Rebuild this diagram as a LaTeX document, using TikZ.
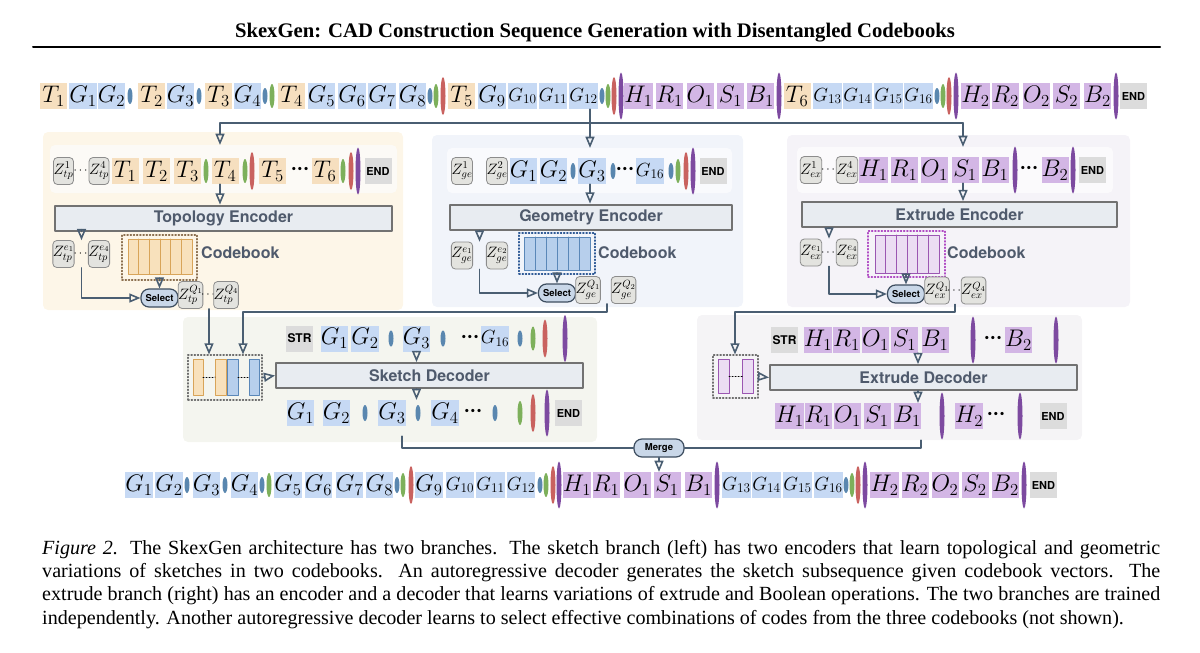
\RequirePackage{fix-cm}
\documentclass[tikz,border=0pt]{standalone}
\usepackage{amsmath}
\usepackage[no-math]{fontspec}
\setmainfont{Liberation Serif}
\newfontfamily\hv{TeX Gyre Heros}
\usetikzlibrary{arrows,shapes.geometric,calc}
\newcommand\bdots{\textperiodcentered\textperiodcentered\textperiodcentered}
\definecolor{tcol}{HTML}{F6DFBF}
\definecolor{gcol}{HTML}{C6D9F4}
\definecolor{xcol}{HTML}{D3B6E5}
\definecolor{endcol}{HTML}{DCDCDC}
\definecolor{zfill}{HTML}{E3E3DF}
\definecolor{zline}{HTML}{8C8C8C}
\definecolor{lnkc}{HTML}{4A5E72}
\definecolor{txtc}{HTML}{4F5A6C}
\definecolor{encfill}{HTML}{E8ECF1}
\definecolor{encline}{HTML}{727272}
\definecolor{selfill}{HTML}{C9D7E8}
\definecolor{selline}{HTML}{3E4E60}
\definecolor{ebl}{HTML}{5A87AF}
\definecolor{egr}{HTML}{7DB05B}
\definecolor{erd}{HTML}{C9625F}
\definecolor{epu}{HTML}{7D4AA0}
\definecolor{bgtp}{HTML}{FDF6E8}
\definecolor{bgge}{HTML}{F1F4FA}
\definecolor{bgex}{HTML}{F5F3F8}
\definecolor{bgsk}{HTML}{F4F5EF}
\definecolor{bgxd}{HTML}{F5F4F6}
\definecolor{sttp}{HTML}{FCFAF6}
\definecolor{stge}{HTML}{F9FAFD}
\definecolor{stex}{HTML}{FBFAFC}
\definecolor{cbtp}{HTML}{F8E1BC}
\definecolor{cbltp}{HTML}{D8A459}
\definecolor{cbge}{HTML}{B7CFEC}
\definecolor{cblge}{HTML}{5A87B8}
\definecolor{cbex}{HTML}{EBDDF3}
\definecolor{cblex}{HTML}{9B56B2}
\definecolor{dottp}{HTML}{8C7050}
\definecolor{dotge}{HTML}{2F5A96}
\definecolor{dotex}{HTML}{B04CC4}
\definecolor{dotsk}{HTML}{6E6E6E}

\begin{document}
\begin{tikzpicture}[line cap=round,line join=round,>=open triangle 45,x=1pt,y=-1pt,
    tok/.style={minimum width=27,minimum height=26,inner sep=0,font=\fontsize{24}{24}\selectfont},
    tk/.style={tok,fill=tcol}, gk/.style={tok,fill=gcol},
    gks/.style={gk,font=\fontsize{19}{19}\selectfont}, xk/.style={tok,fill=xcol},
    endk/.style={tok,fill=endcol,font=\hv\bfseries\fontsize{11}{11}\selectfont},
    strk/.style={endk,font=\hv\bfseries\fontsize{12}{12}\selectfont},
    zk/.style={draw=zline,fill=zfill,line width=0.8,rounded corners=4,minimum width=20,minimum height=27,inner sep=0,font=\fontsize{15}{15}\selectfont},
    dotk/.style={inner sep=0,font=\fontsize{12}{12}\selectfont},
    bdotk/.style={inner sep=0,font=\hv\bfseries\fontsize{22}{22}\selectfont},
    ell/.style={ellipse,inner sep=0,minimum width=5},
    bl/.style={ell,fill=ebl,minimum height=16}, gr/.style={ell,fill=egr,minimum height=24},
    rd/.style={ell,fill=erd,minimum height=38}, pu/.style={ell,fill=epu,minimum height=47},
    enc/.style={draw=encline,line width=2,fill=encfill,minimum height=25,inner sep=0,text=txtc,font=\hv\bfseries\fontsize{16}{16}\selectfont},
    lbl/.style={text=txtc,inner sep=0,font=\hv\bfseries\fontsize{16}{16}\selectfont},
    sel/.style={draw=selline,fill=selfill,line width=1.2,rounded corners=8,minimum width=37,minimum height=18,inner sep=0,font=\hv\bfseries\fontsize{9.5}{9.5}\selectfont},
    cbox/.style={dotted,line width=1.2,inner sep=0},
    strip/.style={rounded corners=5,inner sep=0},
    lnk/.style={color=lnkc,line width=1.6}]
    \useasboundingbox (0,0) rectangle (1200,653);
    % title
    \node[inner sep=0,font=\bfseries\fontsize{20.7}{24}\selectfont] (title) at (595,33) {SkexGen: CAD Construction Sequence Generation with Disentangled Codebooks};
    \draw[line width=2] (33,47) -- (1160,47);

    % full sequence
    \foreach \x/\lb/\s [count=\i] in {53.5/$T_1$/tk, 83/$G_1$/gk, 111.5/$G_2$/gk, 130//bl, 151.5/$T_2$/tk, 180.5/$G_3$/gk, 199//bl, 218.5/$T_3$/tk, 247.5/$G_4$/gk, 265//bl, 272//gr, 291.5/$T_4$/tk, 321.5/$G_5$/gk, 352/$G_6$/gk, 382/$G_7$/gk, 412.5/$G_8$/gk, 430//bl, 436//gr, 443//rd, 461.5/$T_5$/tk, 492/$G_9$/gk, 522.5/$G_{10}$/gks, 553/$G_{11}$/gks, 583.5/$G_{12}$/gks, 602//bl, 608//gr, 614//rd, 621//pu, 638.5/$H_1$/xk, 669.5/$R_1$/xk, 700/$O_1$/xk, 730.5/$S_1$/xk, 760.5/$B_1$/xk, 779//pu, 797/$T_6$/tk, 827.5/$G_{13}$/gks, 857.5/$G_{14}$/gks, 888.5/$G_{15}$/gks, 918.5/$G_{16}$/gks, 937//bl, 943//gr, 949//rd, 956//pu, 975.5/$H_2$/xk, 1005.5/$R_2$/xk, 1036.5/$O_2$/xk, 1066.5/$S_2$/xk, 1097.5/$B_2$/xk, 1116//pu, 1133.5/END/endk}
    \node[\s] (a\i) at (\x,96) {\lb};

    % panels
    \fill[bgtp,rounded corners=5] (43,132) rectangle (403,310);
    \fill[bgge,rounded corners=5] (432,135) rectangle (743,307);
    \fill[bgex,rounded corners=5] (787,135) rectangle (1130,307);
    \fill[bgsk,rounded corners=5] (183,317) rectangle (597,442);
    \fill[bgxd,rounded corners=5] (697,315) rectangle (1082,440);

    % topology branch
    \node[strip,fill=sttp,minimum width=347,minimum height=48] (tstrip) at (223.5,169) {};
    \node[zk] (tzs1) at (63.5,171) {$Z^{1}_{tp}$};
    \node[dotk] (tzsd) at (81.5,171) {$\cdots$};
    \node[zk] (tzs4) at (99,171) {$Z^{4}_{tp}$};
    \foreach \x/\lb/\s [count=\i] in {125/$T_1$/tk, 156.5/$T_2$/tk, 187.5/$T_3$/tk, 206//gr, 225/$T_4$/tk, 245//gr, 252//rd, 272.5/$T_5$/tk, 325/$T_6$/tk, 343//gr, 351//rd, 358//pu, 378/END/endk}
    \node[\s] (b\i) at (\x,171) {\lb};
    \node[bdotk] (tdots) at (300,171) {\bdots};
    \node[enc,minimum width=337] (tenc) at (223.5,218) {Topology Encoder};
    \node[zk] (tz1) at (63.5,254) {$Z^{e_1}_{tp}$};
    \node[dotk] (tzd) at (81.5,254) {$\cdots$};
    \node[zk] (tz4) at (99,254) {$Z^{e_4}_{tp}$};
    \node[cbox,draw=dottp,minimum width=75,minimum height=45] (tcb) at (159.5,257.5) {};
    \filldraw[fill=cbtp,draw=cbltp,line width=1] (128,239) rectangle (192,274);
    \foreach \k in {1,...,5}
    \draw[cbltp,line width=1] ({128+\k*64/6},239) -- ({128+\k*64/6},274);
    \node[lbl,anchor=west] (tlbl) at (201,253) {Codebook};
    \node[sel] (tsel) at (159.5,298) {Select};
    \node[zk] (tq1) at (190.5,295) {$Z^{Q_1}_{tp}$};
    \node[dotk] (tqd) at (209,295) {$\cdots$};
    \node[zk] (tq4) at (226,295) {$Z^{Q_4}_{tp}$};

    % geometry branch
    \node[strip,fill=stge,minimum width=285,minimum height=45] (gstrip) at (589.5,170.5) {};
    \node[zk] (gzs1) at (462,171) {$Z^{1}_{ge}$};
    \node[zk] (gzs2) at (497,171) {$Z^{2}_{ge}$};
    \foreach \x/\lb/\s [count=\i] in {523.5/$G_1$/gk, 553.5/$G_2$/gk, 573//bl, 592/$G_3$/gk, 613//bl, 650/$G_{16}$/gks, 671//bl, 678//gr, 686//rd, 693//pu, 713/END/endk}
    \node[\s] (c\i) at (\x,171) {\lb};
    \node[bdotk] (gdots) at (625,171) {\bdots};
    \node[enc,minimum width=282] (genc) at (591,217) {Geometry Encoder};
    \node[zk] (gz1) at (462,255.5) {$Z^{e_1}_{ge}$};
    \coordinate (gzd) at (479.5,255.5);
    \node[zk] (gz2) at (497,255.5) {$Z^{e_2}_{ge}$};
    \node[cbox,draw=dotge,minimum width=76,minimum height=41] (gcb) at (557,253.5) {};
    \filldraw[fill=cbge,draw=cblge,line width=1] (524,237) rectangle (590,270);
    \foreach \k in {1,...,5}
    \draw[cblge,line width=1] ({524+\k*11},237) -- ({524+\k*11},270);
    \node[lbl,anchor=west] (glbl) at (598,253) {Codebook};
    \node[sel] (gsel) at (557,293) {Select};
    \node[zk] (gq1) at (588,290) {$Z^{Q_1}_{ge}$};
    \coordinate (gqd) at (607,290);
    \node[zk] (gq2) at (623.5,290) {$Z^{Q_2}_{ge}$};

    % extrude branch
    \node[strip,fill=stex,minimum width=316,minimum height=46] (xstrip) at (955,170) {};
    \node[zk] (xzs1) at (811,170) {$Z^{1}_{ex}$};
    \node[dotk] (xzsd) at (829,170) {$\cdots$};
    \node[zk] (xzs4) at (847,170) {$Z^{4}_{ex}$};
    \foreach \x/\lb/\s [count=\i] in {873.5/$H_1$/xk, 904/$R_1$/xk, 934.5/$O_1$/xk, 965/$S_1$/xk, 995/$B_1$/xk, 1015//pu, 1055/$B_2$/xk, 1073//pu, 1092.5/END/endk}
    \node[\s] (e\i) at (\x,170) {\lb};
    \node[bdotk] (xdots) at (1029,170) {\bdots};
    \node[enc,minimum width=315] (xenc) at (959.5,214.5) {Extrude Encoder};
    \node[zk] (xz1) at (811,252.5) {$Z^{e_1}_{ex}$};
    \node[dotk] (xzd) at (829,252.5) {$\cdots$};
    \node[zk] (xz4) at (847,252.5) {$Z^{e_4}_{ex}$};
    \node[cbox,draw=dotex,minimum width=77,minimum height=46] (xcb) at (906.5,254) {};
    \filldraw[fill=cbex,draw=cblex,line width=1] (875,235) rectangle (939,273);
    \foreach \k in {1,...,5}
    \draw[cblex,line width=1] ({875+\k*64/6},235) -- ({875+\k*64/6},273);
    \node[lbl,anchor=west] (xlbl) at (947,253) {Codebook};
    \node[sel] (xsel) at (906,294) {Select};
    \node[zk] (xq1) at (937,290.5) {$Z^{Q_1}_{ex}$};
    \node[dotk] (xqd) at (955,290.5) {$\cdots$};
    \node[zk] (xq4) at (973.5,290.5) {$Z^{Q_4}_{ex}$};

    % sketch decoder
    \node[cbox,draw=dotsk,minimum width=74,minimum height=45] (dcb) at (225,377.5) {};
    \filldraw[fill=cbtp,draw=cbltp,line width=1] (193,359) rectangle (203,395);
    \filldraw[fill=cbtp,draw=cbltp,line width=1] (215,359) rectangle (226,395);
    \filldraw[fill=cbge,draw=cblge,line width=1] (227,359) rectangle (238,395);
    \filldraw[fill=cbge,draw=cblge,line width=1] (249,359) rectangle (259,395);
    \draw[dotted,line width=1] (203,377) -- (215,377);
    \draw[dotted,line width=1] (238,377) -- (249,377);
    \node[enc,minimum width=307] (sdec) at (429.5,375.5) {Sketch Decoder};
    \foreach \x/\lb/\s [count=\i] in {299.5/STR/strk, 334.5/$G_1$/gk, 365/$G_2$/gk, 391//bl, 416.5/$G_3$/gk, 443//bl, 495/$G_{16}$/gks, 520//bl, 533//gr, 545//rd, 565//pu}
    \node[\s] (f\i) at (\x,338.5) {\lb};
    \node[bdotk] (fdots) at (470,338.5) {\bdots};
    \foreach \x/\lb/\s [count=\i] in {300.5/$G_1$/gk, 336.5/$G_2$/gk, 365//bl, 392/$G_3$/gk, 418//bl, 445/$G_4$/gk, 495//bl, 520//gr, 533//rd, 547//pu, 568.5/END/endk}
    \node[\s] (h\i) at (\x,413) {\lb};
    \node[bdotk] (hdots) at (473,413) {\bdots};

    % extrude decoder
    \node[cbox,draw=dotsk,minimum width=45,minimum height=43] (xdcb) at (735.5,376.5) {};
    \filldraw[fill=cbex,draw=cblex,line width=1] (718,359) rectangle (729,393);
    \filldraw[fill=cbex,draw=cblex,line width=1] (742,359) rectangle (753,393);
    \draw[dotted,line width=1] (729,376) -- (742,376);
    \node[enc,minimum width=307] (xdec) at (923.5,377.5) {Extrude Decoder};
    \foreach \x/\lb/\s [count=\i] in {784.5/STR/strk, 818/$H_1$/xk, 846.5/$R_1$/xk, 875.5/$O_1$/xk, 904.5/$S_1$/xk, 935/$B_1$/xk, 973//pu, 1018.5/$B_2$/xk, 1056//pu}
    \node[\s] (m\i) at (\x,340) {\lb};
    \node[bdotk] (mdots) at (993,340) {\bdots};
    \foreach \x/\lb/\s [count=\i] in {789.5/$H_1$/xk, 818/$R_1$/xk, 847.5/$O_1$/xk, 877/$S_1$/xk, 907.5/$B_1$/xk, 942//pu, 969/$H_2$/xk, 1020//pu, 1053/END/endk}
    \node[\s] (n\i) at (\x,416) {\lb};
    \node[bdotk] (ndots) at (996,416) {\bdots};

    % merged sequence
    \node[sel,minimum width=50] (merge) at (659,448) {Merge};
    \foreach \x/\lb/\s [count=\i] in {139/$G_1$/gk, 169/$G_2$/gk, 187//bl, 206.5/$G_3$/gk, 225//bl, 244.5/$G_4$/gk, 262//bl, 269//gr, 288/$G_5$/gk, 318.5/$G_6$/gk, 349.5/$G_7$/gk, 379.5/$G_8$/gk, 397//bl, 403//gr, 411//rd, 429/$G_9$/gk, 460/$G_{10}$/gks, 490.5/$G_{11}$/gks, 521/$G_{12}$/gks, 540//bl, 546//gr, 553//rd, 559//pu, 577/$H_1$/xk, 606/$R_1$/xk, 637/$O_1$/xk, 667/$S_1$/xk, 698.5/$B_1$/xk, 717//pu, 736.5/$G_{13}$/gks, 766.5/$G_{14}$/gks, 797.5/$G_{15}$/gks, 828.5/$G_{16}$/gks, 846//bl, 852//gr, 858//rd, 865//pu, 884.5/$H_2$/xk, 915/$R_2$/xk, 945/$O_2$/xk, 975/$S_2$/xk, 1005.5/$B_2$/xk, 1024//pu, 1043.5/END/endk}
    \node[\s] (p\i) at (\x,485) {\lb};

    % connectors
    \coordinate (fork) at (590,123);
    \coordinate (tin) at (220,123);
    \coordinate (xin) at (963,123);
    \draw[lnk] (tin) -- (xin);
    \draw[lnk,->] (a24.south -| fork) -- (fork |- gstrip.north);
    \draw[lnk,->] (tin) -- (tin |- tstrip.north);
    \draw[lnk,->] (xin) -- (xin |- xstrip.north);
    \draw[lnk,->] (b5.south -| tin) -- (tenc.north -| tin);
    \draw[lnk,->] (tenc.south -| tzd) -- (tz1.north -| tzd);
    \draw[lnk,->] (tcb.south) -- (tsel.north);
    \draw[lnk,->] (tz1.south -| tzd) |- (tsel.west);
    \draw[lnk,->] (c4.south -| fork) -- (genc.north -| fork);
    \draw[lnk,->] (genc.south -| gzd) -- (gz1.north -| gzd);
    \draw[lnk,->] (gcb.south) -- (gsel.north);
    \draw[lnk,->] (gz1.south -| gzd) |- (gsel.west);
    \draw[lnk,->] (e4.south -| xin) -- (xenc.north -| xin);
    \draw[lnk,->] (xenc.south -| xzd) -- (xz1.north -| xzd);
    \draw[lnk,->] (xcb.south -| xsel) -- (xsel.north);
    \draw[lnk,->] (xz1.south -| xzd) |- (xsel.west);
    \coordinate (gturn) at (243,312);
    \coordinate (xturn) at (735,312);
    \draw[lnk,->] (tq1.south -| tqd) -- (dcb.north -| tqd);
    \draw[lnk,->] (gq1.south -| gqd) |- (gturn) -- (gturn |- dcb.north);
    \draw[lnk,->] (xq1.south -| xqd) |- (xturn) -- (xturn |- xdcb.north);
    \draw[lnk,->] (dcb.east) -- (sdec.west);
    \draw[lnk,->] (f5.south) -- (f5.south |- sdec.north);
    \draw[lnk,->] (sdec.south -| f5) -- (h4.north -| f5);
    \coordinate (xa) at (918,0);
    \draw[lnk,->] (xdcb.east) -- (xdec.west);
    \draw[lnk,->] (m5.south -| xa) -- (xdec.north -| xa);
    \draw[lnk,->] (xdec.south -| xa) -- (n5.north -| xa);
    \coordinate (ml) at (402,448);
    \draw[lnk] ($(h4.south -| ml)+(0,10)$) -- (ml) -- (merge.west);
    \draw[lnk] ($(n5.south east)+(0,11)$) |- (merge.east);
    \draw[lnk,->] (merge.south) -- (merge.south |- p27.north);

    % caption
    \node[anchor=north west,inner sep=0,text width=1118,align=justify,font=\fontsize{20.1}{23.3}\selectfont] (cap) at (42,540) {{\itshape Figure 2.} The SkexGen architecture has two branches. The sketch branch (left) has two encoders that learn topological and geometric\linebreak variations of sketches in two codebooks. An autoregressive decoder generates the sketch subsequence given codebook vectors. The\linebreak extrude branch (right) has an encoder and a decoder that learns variations of extrude and Boolean operations. The two branches are trained\linebreak independently. Another autoregressive decoder learns to select effective combinations of codes from the three codebooks (not shown).};
\end{tikzpicture}
\end{document}
